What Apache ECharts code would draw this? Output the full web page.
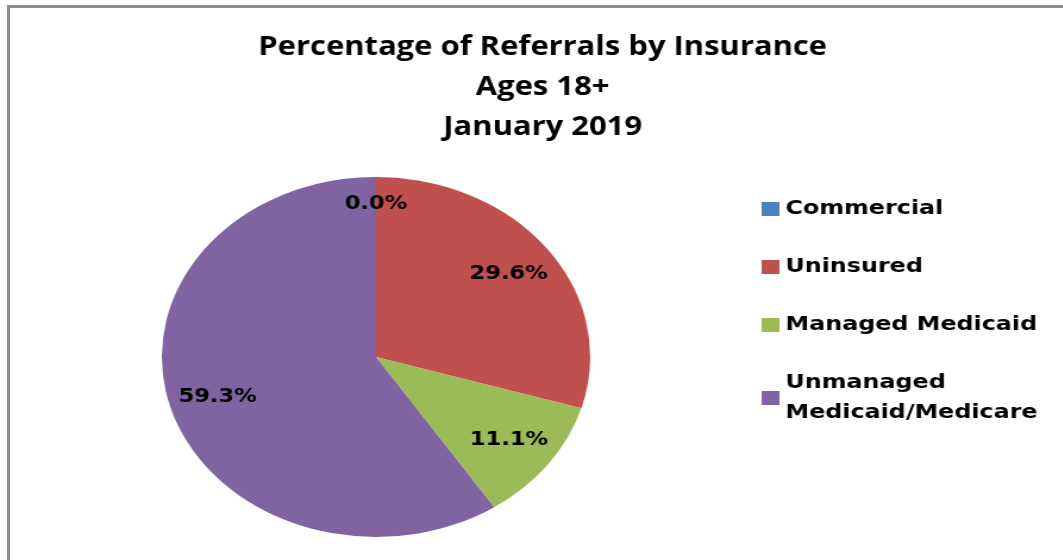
<!DOCTYPE html>
<html>
<head>
<meta charset="utf-8">
<title>Percentage of Referrals by Insurance</title>
<script src="https://cdn.jsdelivr.net/npm/echarts@6/dist/echarts.min.js"></script>
<style>
    html, body { margin: 0; padding: 0; background: #fff; overflow: hidden; }
    #frame {
        position: absolute; left: 7px; top: 5px; width: 1100px; height: 600px;
        border-left: 3px solid #8c8c8c; border-top: 3px solid #8c8c8c;
    }
    /* the source picture is stretched sideways, so the chart is too */
    #chart {
        position: absolute; left: 0; top: 0; width: 894px; height: 560px;
        transform: scaleX(1.19); transform-origin: 0 0;
    }
</style>
</head>
<body>
<div id="frame"></div>
<div id="chart"></div>
<script>
var titleLines = ['Percentage of Referrals by Insurance', 'Ages 18+', 'January 2019'];
var categories = ['Commercial', 'Uninsured', 'Managed Medicaid', 'Unmanaged Medicaid/Medicare'];
var percentages = [0.0, 29.6, 11.1, 59.3];
var colors = ['#4f81bd', '#c0504d', '#9bbb59', '#8064a2'];

var chart = echarts.init(document.getElementById('chart'));

var pieData = categories.map(function(name, i) {
    return { name: name, value: percentages[i] };
});

// label layer: same slices, transparent, bigger radius so inside labels sit further out
var labelData = categories.map(function(name, i) {
    var item = { name: name, value: percentages[i] };
    if (percentages[i] === 0) item.label = { offset: [0, -14] };
    return item;
});

chart.setOption({
    backgroundColor: 'transparent',
    animation: false,
    color: colors,
    title: {
        text: titleLines.join('\n'),
        left: 456,
        top: 28,
        padding: 0,
        textAlign: 'center',
        textStyle: {
            fontFamily: 'Open Sans', fontWeight: 'bold', fontSize: 26,
            lineHeight: 40, color: '#000'
        }
    },
    legend: {
        orient: 'vertical',
        left: 640,
        top: 194,
        padding: 0,
        itemWidth: 15,
        itemHeight: 14,
        itemGap: 28,
        icon: 'rect',
        selectedMode: false,
        data: categories.map(function(name, i) {
            return { name: name, itemStyle: { color: colors[i] } };
        }),
        formatter: function(name) {
            return name.replace('Unmanaged ', 'Unmanaged\n');
        },
        textStyle: {
            fontFamily: 'DejaVu Sans', fontWeight: 'bold', fontSize: 20,
            lineHeight: 30, color: '#000'
        }
    },
    series: [{
        name: 'Insurance',
        type: 'pie',
        center: [316, 357],
        radius: [0, 180],
        startAngle: 90,
        clockwise: true,
        silent: true,
        emphasis: { disabled: true },
        label: { show: false },
        labelLine: { show: false },
        data: pieData
    }, {
        name: 'Labels',
        type: 'pie',
        center: [316, 357],
        radius: [0, 272],
        startAngle: 90,
        clockwise: true,
        silent: true,
        z: 3,
        emphasis: { disabled: true },
        itemStyle: { color: 'rgba(0,0,0,0)' },
        labelLine: { show: false },
        label: {
            show: true,
            position: 'inside',
            fontFamily: 'DejaVu Sans', fontWeight: 'bold', fontSize: 19,
            color: '#000',
            formatter: function(p) { return p.value.toFixed(1) + '%'; }
        },
        data: labelData
    }]
});
</script>
</body>
</html>
